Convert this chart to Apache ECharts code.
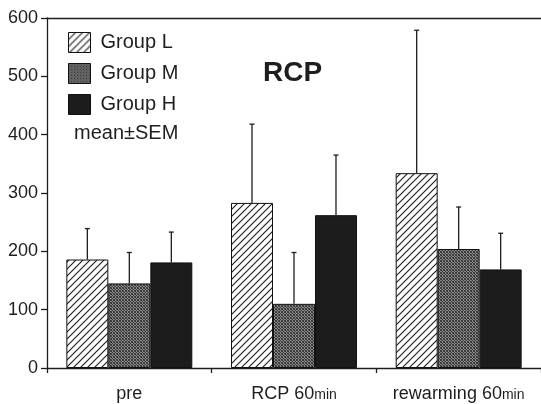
<!DOCTYPE html>
<html>
<head>
<meta charset="utf-8">
<script src="https://cdn.jsdelivr.net/npm/echarts@6/dist/echarts.min.js"></script>
<style>
html,body{margin:0;padding:0;background:#fff;}
#chart{width:541px;height:404px;}
</style>
</head>
<body>
<div id="chart"></div>
<script>
// ---- data ----
var categories = ['pre', 'RCP 60min', 'rewarming 60min'];
var groupNames = ['Group L', 'Group M', 'Group H'];
var meanL = [186, 283, 334];
var meanM = [145, 110, 204];
var meanH = [181, 262, 169];
var semL = [53, 135, 245];
var semM = [53, 88, 72];
var semH = [52, 103, 62];
var yTicks = [0, 100, 200, 300, 400, 500, 600];
var titleText = 'RCP';
var noteText = 'mean\u00B1SEM';

// ---- patterns ----
function hatchPattern() {
  var s = 7;
  var c = document.createElement('canvas');
  c.width = s; c.height = s;
  var ctx = c.getContext('2d');
  ctx.fillStyle = '#fff'; ctx.fillRect(0, 0, s, s);
  ctx.strokeStyle = '#222'; ctx.lineWidth = 1.2;
  ctx.beginPath();
  ctx.moveTo(-1, s + 1); ctx.lineTo(s + 1, -1);
  ctx.moveTo(-1, 1); ctx.lineTo(1, -1);
  ctx.moveTo(s - 1, s + 1); ctx.lineTo(s + 1, s - 1);
  ctx.stroke();
  return { image: c, repeat: 'repeat' };
}
function stipplePattern() {
  var c = document.createElement('canvas');
  c.width = 3; c.height = 3;
  var ctx = c.getContext('2d');
  var g = [['#333','#8a8a8a','#444'],['#7a7a7a','#3a3a3a','#909090'],['#484848','#858585','#363636']];
  for (var i = 0; i < 3; i++) for (var j = 0; j < 3; j++) { ctx.fillStyle = g[i][j]; ctx.fillRect(j, i, 1, 1); }
  return { image: c, repeat: 'repeat' };
}

var fills = [hatchPattern(), stipplePattern(), '#1c1c1c'];
var means = [meanL, meanM, meanH];
var sems = [semL, semM, semH];
var barRatio = 0.255;
var font = '"Liberation Sans", Arial, Helvetica, sans-serif';
var ink = '#1e1e1e';

var series = [];
groupNames.forEach(function (name, gi) {
  series.push({
    name: name,
    type: 'bar',
    barWidth: (barRatio * 100) + '%',
    barGap: '0%',
    data: means[gi],
    itemStyle: { color: fills[gi], borderColor: '#111', borderWidth: 1 },
    emphasis: { disabled: true }
  });
});
groupNames.forEach(function (name, gi) {
  var data = means[gi].map(function (m, ci) { return [ci, m + sems[gi][ci], m]; });
  series.push({
    type: 'custom',
    z: 5,
    silent: true,
    data: data,
    encode: { x: 0, y: 1 },
    renderItem: function (params, api) {
      var cat = api.value(0), top = api.value(1), mean = api.value(2);
      var p0 = api.coord([cat, mean]);
      var p1 = api.coord([cat, top]);
      var bw = api.size([1, 0])[0] * barRatio;
      var x = p0[0] + (gi - 1) * bw;
      var st = { stroke: ink, lineWidth: 1.3 };
      return {
        type: 'group',
        children: [
          { type: 'line', shape: { x1: x, y1: p0[1], x2: x, y2: p1[1] }, style: st },
          { type: 'line', shape: { x1: x - 2.5, y1: p1[1], x2: x + 2.5, y2: p1[1] }, style: st }
        ]
      };
    }
  });
});

var chart = echarts.init(document.getElementById('chart'), null, { renderer: 'canvas' });
chart.setOption({
  animation: false,
  backgroundColor: '#fff',
  textStyle: { fontFamily: font, color: ink },
  grid: { left: 47, right: -3, top: 18, bottom: 36, containLabel: false },
  title: [
    { text: titleText, left: 263, top: 59, padding: 0,
      textStyle: { fontFamily: font, fontSize: 28, fontWeight: 'bold', color: ink } },
    { text: noteText, left: 74, top: 123, padding: 0,
      textStyle: { fontFamily: font, fontSize: 20, fontWeight: 'normal', color: ink } }
  ],
  legend: {
    data: groupNames,
    orient: 'vertical',
    left: 68, top: 32,
    padding: 0,
    itemWidth: 22, itemHeight: 20, itemGap: 10,
    icon: 'rect',
    selectedMode: false,
    itemStyle: { borderColor: '#111', borderWidth: 1 },
    textStyle: { fontFamily: font, fontSize: 20, color: ink, padding: [0, 0, 0, 5] }
  },
  xAxis: [
    {
      type: 'category', data: categories, position: 'bottom',
      axisLine: { show: true, lineStyle: { color: ink, width: 1.3 } },
      axisTick: { show: true, interval: 0, length: 5, lineStyle: { color: ink, width: 1.3 } },
      axisLabel: {
        interval: 0, hideOverlap: false,
        margin: 17, fontFamily: font, fontSize: 18, color: ink,
        formatter: function (v) {
          var m = v.match(/^(.*?)(min)$/);
          return m ? '{a|' + m[1] + '}{b|' + m[2] + '}' : '{a|' + v + '}';
        },
        rich: {
          a: { fontFamily: font, fontSize: 18, color: ink },
          b: { fontFamily: font, fontSize: 14, color: ink, padding: [3, 0, 0, 0] }
        }
      }
    },
    {
      type: 'category', data: categories, position: 'top',
      axisLine: { show: true, lineStyle: { color: ink, width: 1.3 } },
      axisTick: { show: false }, axisLabel: { show: false }
    }
  ],
  yAxis: {
    type: 'value', min: yTicks[0], max: yTicks[yTicks.length - 1], interval: yTicks[1] - yTicks[0],
    axisLine: { show: true, lineStyle: { color: ink, width: 1.3 } },
    axisTick: { show: true, length: 6, lineStyle: { color: ink, width: 1.3 } },
    splitLine: { show: false },
    axisLabel: { margin: 9, fontFamily: font, fontSize: 18, color: ink }
  },
  series: series
});
</script>
</body>
</html>
